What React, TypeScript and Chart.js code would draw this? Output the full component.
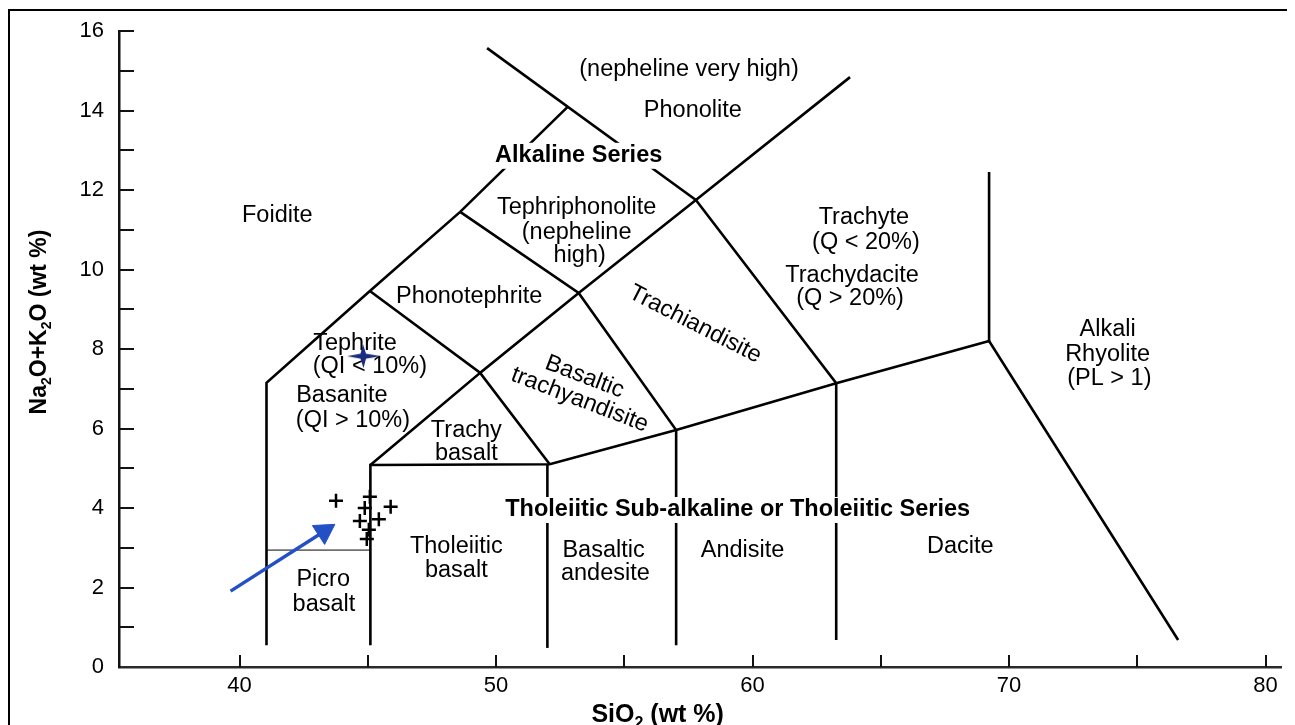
import React, { useEffect, useRef } from 'react';
import { Chart, registerables } from 'chart.js';

Chart.register(...registerables);

// ---- axes ----
const X_MIN = 35.3;
const X_MAX = 80.6;
const Y_MIN = 0;
const Y_MAX = 16;
const X_TICKS = [40, 45, 50, 55, 60, 65, 70, 75, 80];
const X_LABELED = [40, 50, 60, 70, 80];
const Y_TICKS = [0, 2, 4, 6, 8, 10, 12, 14, 16];
const Y_MINOR = [1, 2, 3, 4, 5, 6, 7, 8, 9, 10, 11, 12, 13, 14, 15, 16];
const X_TITLE = [['SiO', false], ['2', true], [' (wt %)', false]] as [string, boolean][];
const Y_TITLE = [['Na', false], ['2', true], ['O+K', false], ['2', true], ['O (wt %)', false]] as [string, boolean][];

// ---- samples ----
const sampleSiO2 = [43.76, 45.08, 44.88, 45.89, 44.69, 45.43, 45.04, 44.96];
const sampleAlk = [4.18, 4.28, 4.0, 4.03, 3.67, 3.72, 3.45, 3.22];
const highlightSiO2 = [44.85];
const highlightAlk = [7.82];
const arrowSiO2 = [39.65, 43.29];
const arrowAlk = [1.91, 3.41];

// ---- field boundaries (SiO2, Na2O+K2O) ----
const alkaliLeftX = [41.05, 41.05, 45.08, 48.6, 52.79];
const alkaliLeftY = [0.55, 7.15, 9.46, 11.45, 14.09];
const phonoliteLeftX = [49.65, 57.79];
const phonoliteLeftY = [15.57, 11.75];
const trachyteTopX = [53.22, 57.79, 63.8];
const trachyteTopY = [9.41, 11.75, 14.84];
const trachyteLeftX = [57.79, 63.26, 63.26];
const trachyteLeftY = [11.75, 7.14, 0.68];
const tephriLowerX = [48.6, 53.22, 57.02, 57.02];
const tephriLowerY = [11.45, 9.41, 5.96, 0.55];
const phonotephriLowerX = [45.08, 49.38, 53.22];
const phonotephriLowerY = [9.46, 7.4, 9.41];
const trachybasaltX = [45.1, 49.38, 52.09];
const trachybasaltY = [5.08, 7.4, 5.1];
const subalkalineX = [45.1, 45.1, 52.09, 57.02, 63.26, 69.22, 76.59];
const subalkalineY = [0.55, 5.08, 5.1, 5.96, 7.14, 8.2, 0.68];
const rhyoliteX = [69.22, 69.22];
const rhyoliteY = [12.45, 8.2];
const basaltRightX = [52.0, 52.0];
const basaltRightY = [0.48, 5.1];
const picroTopX = [41.05, 45.1];
const picroTopY = [2.94, 2.94];

// ---- field names ----
const fieldNames = [
  '(nepheline very high)', 'Phonolite', 'Foidite', 'Tephriphonolite', '(nepheline', 'high)',
  'Trachyte', '(Q < 20%)', 'Trachydacite', '(Q > 20%)', 'Phonotephrite', 'Trachiandisite',
  'Tephrite', '(QI < 10%)', 'Basaltic', 'trachyandisite', 'Basanite', '(QI > 10%)',
  'Trachy', 'basalt', 'Alkali', 'Rhyolite', '(PL > 1)', 'Tholeiitic', 'basalt',
  'Basaltic', 'andesite', 'Andisite', 'Dacite', 'Picro', 'basalt',
];
const fieldNameX = [
  57.52, 57.67, 41.47, 53.14, 53.14, 53.26,
  64.34, 64.42, 63.88, 63.80, 48.95, 57.76,
  44.50, 45.08, 53.45, 53.26, 43.99, 44.42,
  48.84, 48.84, 73.84, 73.84, 73.91, 48.45, 48.45,
  54.19, 54.26, 59.61, 68.10, 43.26, 43.29,
];
const fieldNameY = [
  15.02, 14.01, 11.37, 11.55, 10.94, 10.36,
  11.30, 10.67, 9.84, 9.26, 9.33, 8.62,
  8.13, 7.55, 7.30, 6.72, 6.84, 6.21,
  5.94, 5.38, 8.48, 7.85, 7.27, 3.02, 2.42,
  2.94, 2.34, 2.94, 3.04, 2.19, 1.58,
];
const fieldNameAngle = [
  0, 0, 0, 0, 0, 0,
  0, 0, 0, 0, 0, 27,
  0, 0, 21, 21, 0, 0,
  0, 0, 0, 0, 0, 0, 0,
  0, 0, 0, 0, 0, 0,
];
const seriesNames = ['Alkaline Series', 'Tholeiitic Sub-alkaline or Tholeiitic Series'];
const seriesNameX = [53.22, 59.42];
const seriesNameY = [12.86, 3.95];

const FONT = '"Liberation Sans", Arial, Helvetica, sans-serif';

function pts(xs: number[], ys: number[]) {
  return xs.map((x, i) => ({ x, y: ys[i] }));
}

function makeStar(): HTMLCanvasElement {
  const c = document.createElement('canvas');
  c.width = 36;
  c.height = 26;
  const g = c.getContext('2d')!;
  g.fillStyle = '#1b2c7e';
  g.beginPath();
  g.moveTo(17, 1);
  g.lineTo(20, 10.5);
  g.lineTo(35, 13);
  g.lineTo(20, 15.5);
  g.lineTo(17.5, 25);
  g.lineTo(14.5, 15.5);
  g.lineTo(1, 13);
  g.lineTo(14.5, 10.5);
  g.closePath();
  g.fill();
  return c;
}

function drawRich(
  ctx: CanvasRenderingContext2D,
  parts: [string, boolean][],
  cx: number,
  cy: number,
  size: number,
  rot: number
) {
  const big = `bold ${size}px ${FONT}`;
  const small = `bold ${Math.round(size * 0.62)}px ${FONT}`;
  const widths = parts.map(([t, sub]) => {
    ctx.font = sub ? small : big;
    return ctx.measureText(t).width;
  });
  const total = widths.reduce((a, b) => a + b, 0);
  ctx.save();
  ctx.translate(cx, cy);
  ctx.rotate(rot);
  ctx.fillStyle = '#000';
  ctx.textAlign = 'left';
  ctx.textBaseline = 'alphabetic';
  let x = -total / 2;
  const base = size * 0.36;
  parts.forEach(([t, sub], i) => {
    ctx.font = sub ? small : big;
    ctx.fillText(t, x, sub ? base + size * 0.22 : base);
    x += widths[i];
  });
  ctx.restore();
}

export default function App() {
  const ref = useRef<HTMLCanvasElement | null>(null);

  useEffect(() => {
    if (!ref.current) return;
    const star = makeStar();

    const boundaries = [
      [alkaliLeftX, alkaliLeftY],
      [phonoliteLeftX, phonoliteLeftY],
      [trachyteTopX, trachyteTopY],
      [trachyteLeftX, trachyteLeftY],
      [tephriLowerX, tephriLowerY],
      [phonotephriLowerX, phonotephriLowerY],
      [trachybasaltX, trachybasaltY],
      [subalkalineX, subalkalineY],
      [rhyoliteX, rhyoliteY],
      [basaltRightX, basaltRightY],
    ];

    const markerSets: any[] = [
      {
        data: pts(arrowSiO2, arrowAlk),
        showLine: true,
        borderColor: '#2450c6',
        borderWidth: 3.4,
        pointRadius: [0, 13],
        pointStyle: 'triangle',
        pointRotation: 57,
        pointBackgroundColor: '#2450c6',
        pointBorderColor: '#2450c6',
        pointBorderWidth: 1,
      },
      {
        data: pts(highlightSiO2, highlightAlk),
        showLine: false,
        pointStyle: star,
        pointRadius: 12,
      },
      {
        data: pts(sampleSiO2, sampleAlk),
        showLine: false,
        pointStyle: 'cross',
        pointRadius: 7,
        pointBorderColor: '#000',
        pointBorderWidth: 2.5,
      },
    ];
    const lineSets: any[] = boundaries.map(([xs, ys]) => ({
      data: pts(xs, ys),
      showLine: true,
      borderColor: '#000',
      borderWidth: 2.6,
      pointRadius: 0,
      tension: 0,
    }));
    lineSets.push({
      data: pts(picroTopX, picroTopY),
      showLine: true,
      borderColor: '#6f6f6f',
      borderWidth: 1.6,
      pointRadius: 0,
    });
    const firstLineIndex = markerSets.length;

    const labelPlugin = {
      id: 'tasLabels',
      afterDatasetDraw(chart: any, args: any) {
        if (args.index !== firstLineIndex) return;
        const { ctx, scales } = chart;
        const sx = scales.x;
        const sy = scales.y;
        ctx.save();
        ctx.fillStyle = '#000';
        ctx.textAlign = 'center';
        ctx.textBaseline = 'middle';
        ctx.font = `23.5px ${FONT}`;
        fieldNames.forEach((t, i) => {
          const px = sx.getPixelForValue(fieldNameX[i]);
          const py = sy.getPixelForValue(fieldNameY[i]);
          ctx.save();
          ctx.translate(px, py);
          ctx.rotate((fieldNameAngle[i] * Math.PI) / 180);
          ctx.fillText(t, 0, 0);
          ctx.restore();
        });
        ctx.font = `bold 23.5px ${FONT}`;
        seriesNames.forEach((t, i) => {
          const px = sx.getPixelForValue(seriesNameX[i]);
          const py = sy.getPixelForValue(seriesNameY[i]);
          const w = ctx.measureText(t).width;
          ctx.fillStyle = '#fff';
          ctx.fillRect(px - w / 2 - 4, py - 13, w + 8, 26);
          ctx.fillStyle = '#000';
          ctx.fillText(t, px, py);
        });
        ctx.restore();
      },
      afterDraw(chart: any) {
        const { ctx, scales, chartArea } = chart;
        ctx.save();
        ctx.strokeStyle = '#111';
        ctx.lineWidth = 2;
        ctx.beginPath();
        Y_MINOR.forEach((v) => {
          const py = Math.round(scales.y.getPixelForValue(v));
          ctx.moveTo(chartArea.left, py);
          ctx.lineTo(chartArea.left + 15, py);
        });
        X_TICKS.forEach((v) => {
          const px = Math.round(scales.x.getPixelForValue(v));
          ctx.moveTo(px, chartArea.bottom);
          ctx.lineTo(px, chartArea.bottom - 12);
        });
        ctx.stroke();
        ctx.restore();
        // axis titles with real subscripts
        drawRich(ctx, X_TITLE, scales.x.getPixelForValue(56.3), chartArea.bottom + 46, 25, 0);
        drawRich(ctx, Y_TITLE, 30, scales.y.getPixelForValue(8.68), 23, -Math.PI / 2);
      },
    };

    const chart = new Chart(ref.current, {
      type: 'scatter',
      data: { datasets: [...markerSets, ...lineSets] },
      options: {
        animation: false,
        responsive: false,
        events: [],
        layout: { padding: { left: 0, top: 23, right: 7, bottom: 0 } },
        plugins: { legend: { display: false }, tooltip: { enabled: false } },
        scales: {
          x: {
            type: 'linear',
            min: X_MIN,
            max: X_MAX,
            grid: { display: false, drawTicks: false },
            border: { display: true, color: '#2a2a2a', width: 2.5 },
            ticks: {
              padding: 6,
              color: '#000',
              font: { family: FONT, size: 22 },
              maxRotation: 0,
              autoSkip: false,
              callback: (v: any) => (X_LABELED.includes(Number(v)) ? String(v) : ''),
            },
            afterBuildTicks: (s: any) => {
              s.ticks = X_TICKS.map((value) => ({ value }));
            },
            afterFit: (s: any) => {
              s.height = 58;
              s.paddingLeft = 0;
              s.paddingRight = 0;
            },
            title: { display: false },
          },
          y: {
            type: 'linear',
            min: Y_MIN,
            max: Y_MAX,
            grid: { display: false, drawTicks: false },
            border: { display: true, color: '#111', width: 2.5 },
            ticks: {
              padding: 15,
              color: '#000',
              font: { family: FONT, size: 22 },
              autoSkip: false,
            },
            afterBuildTicks: (s: any) => {
              s.ticks = Y_TICKS.map((value) => ({ value }));
            },
            afterFit: (s: any) => {
              s.width = 111;
              s.paddingTop = 0;
              s.paddingBottom = 0;
            },
            title: { display: false },
          },
        },
      },
      plugins: [labelPlugin],
    } as any);

    return () => chart.destroy();
  }, []);

  return (
    <div style={{ position: 'relative', width: 1287, height: 717, overflow: 'hidden' }}>
      <canvas
        ref={ref}
        width={1287}
        height={717}
        style={{ position: 'absolute', left: 0, top: 0, width: 1287, height: 717 }}
      />
      <div
        style={{
          position: 'absolute',
          left: 0,
          top: 1,
          width: 1280,
          height: 740,
          border: '2px solid #000',
          borderBottom: 'none',
          pointerEvents: 'none',
        }}
      />
    </div>
  );
}
